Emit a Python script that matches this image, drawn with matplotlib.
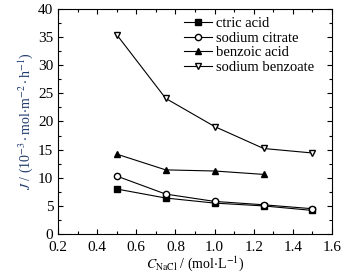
import matplotlib
matplotlib.use("Agg")
import matplotlib.pyplot as plt
from matplotlib.ticker import MultipleLocator

c_nacl = [0.5, 0.75, 1.0, 1.25, 1.5]
citric_acid = [8.0, 6.4, 5.5, 5.0, 4.2]
sodium_citrate = [10.3, 7.1, 5.8, 5.2, 4.5]
c_benzoic = [0.5, 0.75, 1.0, 1.25]
benzoic_acid = [14.2, 11.4, 11.2, 10.6]
sodium_benzoate = [35.4, 24.1, 19.1, 15.2, 14.4]

plt.rcParams["font.family"] = ["Liberation Serif", "DejaVu Serif"]
plt.rcParams["mathtext.fontset"] = "stix"

fig = plt.figure(figsize=(3.54, 2.77), dpi=100)
ax = fig.add_axes([0.164, 0.155, 0.774, 0.813])

kw = dict(color="black", lw=0.8, ms=4.5)
ax.plot(c_nacl, citric_acid, marker="s", mfc="black", label="ctric acid", **kw)
ax.plot(c_nacl, sodium_citrate, marker="o", mfc="white", label="sodium citrate", **kw)
ax.plot(c_benzoic, benzoic_acid, marker="^", mfc="black", label="benzoic acid", **kw)
ax.plot(c_nacl, sodium_benzoate, marker="v", mfc="white", label="sodium benzoate", **kw)

ax.set_xlim(0.2, 1.6)
ax.set_ylim(0, 40)
ax.xaxis.set_major_locator(MultipleLocator(0.2))
ax.xaxis.set_minor_locator(MultipleLocator(0.1))
ax.yaxis.set_major_locator(MultipleLocator(5))
ax.yaxis.set_minor_locator(MultipleLocator(2.5))
ax.tick_params(which="both", direction="in", top=True, right=True, labelsize=11, width=0.8)
ax.tick_params(axis="x", pad=5)
ax.tick_params(which="major", length=3.5)
ax.tick_params(which="minor", length=2)
for s in ax.spines.values():
    s.set_linewidth(0.8)

ax.set_xlabel(r"$C_{\mathrm{NaCl}}$ / (mol$\cdot$L$^{-1}$)", fontsize=10, labelpad=0)
ax.set_ylabel(r"$J$ / (10$^{-3}\cdot$mol$\cdot$m$^{-2}\cdot$h$^{-1}$)", fontsize=10,
              color="#1f3a6e", labelpad=2)

ax.legend(loc="upper left", bbox_to_anchor=(0.43, 1.0), frameon=False, fontsize=10.5,
          handlelength=1.9, handletextpad=0.3, labelspacing=0.1, borderaxespad=0.15)

fig.savefig("out.png", dpi=100)
